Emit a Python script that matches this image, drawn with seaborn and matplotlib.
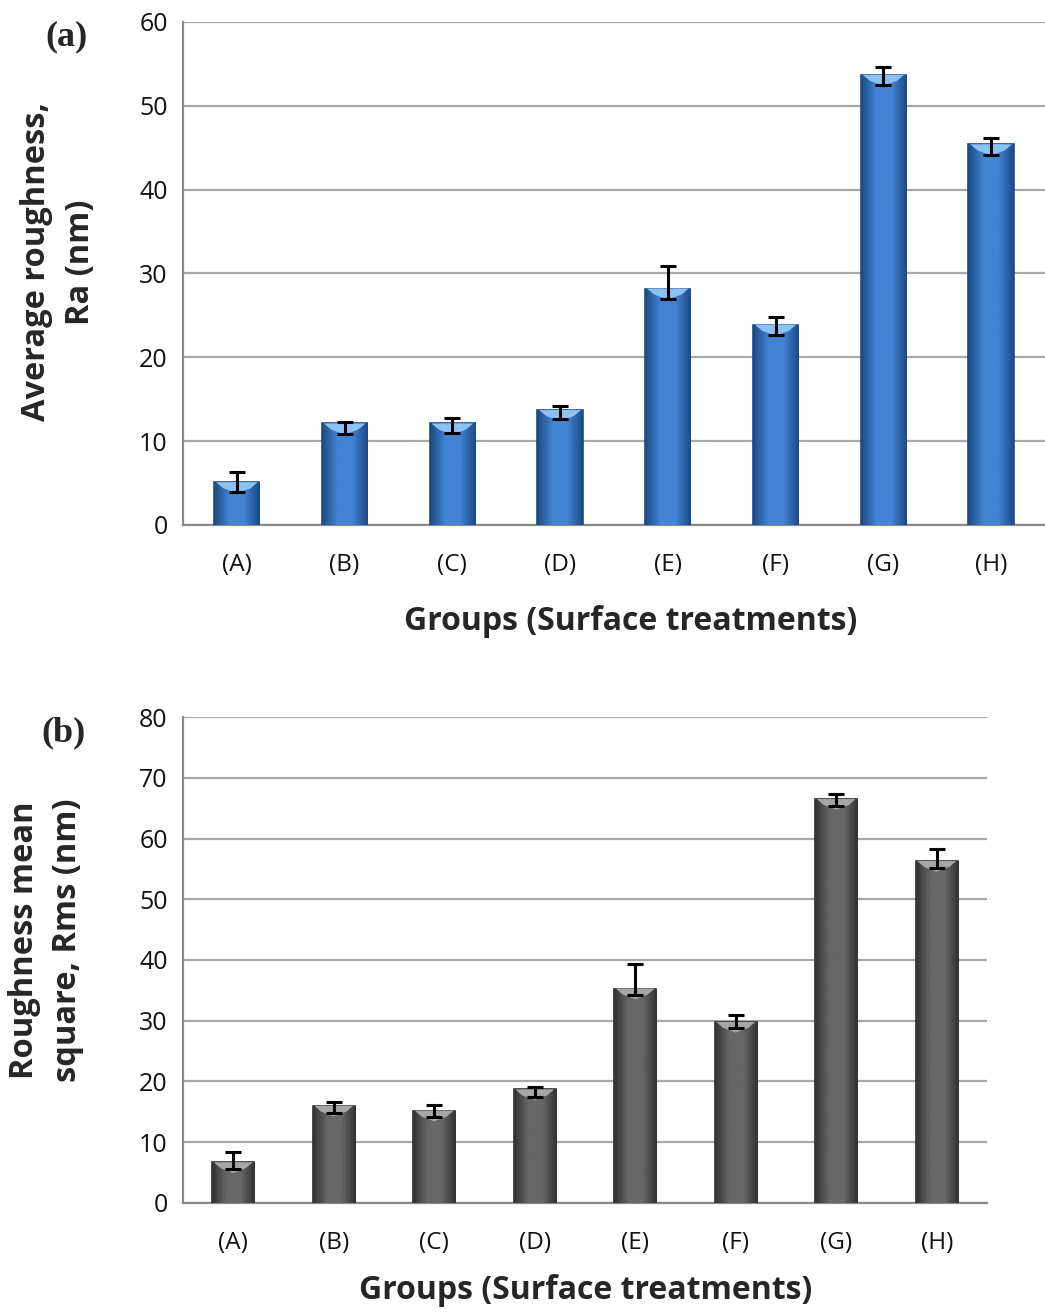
import numpy as np
import pandas as pd
import matplotlib
matplotlib.use('Agg')
import matplotlib.pyplot as plt
from matplotlib.colors import LinearSegmentedColormap
import seaborn as sns

# Valeurs
groups = ['(A)', '(B)', '(C)', '(D)', '(E)', '(F)', '(G)', '(H)']

ra = [5.1, 12.1, 12.1, 13.7, 28.2, 23.9, 53.7, 45.4]
ra_err_low = [1.2, 1.3, 1.1, 1.1, 1.2, 1.2, 1.2, 1.3]
ra_err_high = [1.2, 0.2, 0.7, 0.5, 2.7, 0.9, 0.9, 0.7]

rms = [6.7, 16.0, 15.2, 18.7, 35.3, 29.8, 66.5, 56.3]
rms_err_low = [1.1, 1.2, 1.1, 1.2, 1.1, 1.0, 1.2, 1.2]
rms_err_high = [1.7, 0.7, 1.0, 0.4, 4.0, 1.1, 0.8, 1.9]

df = pd.DataFrame({'group': groups, 'ra': ra, 'rms': rms})

sns.set_style('white')
plt.rcParams['font.family'] = ['Open Sans', 'DejaVu Sans']

fig = plt.figure(figsize=(10.45, 13.13), dpi=100)
ax1 = fig.add_axes([0.1751, 0.6002, 0.8249, 0.3831])
ax2 = fig.add_axes([0.1751, 0.0838, 0.7694, 0.3701])


def draw_panel(ax, col, err_low, err_high, ymax, c_edge, c_mid, c_line, c_top):
    sns.barplot(data=df, x='group', y=col, ax=ax, width=0.42, color=c_mid,
                edgecolor=c_line, linewidth=1.2, zorder=3)
    cmap = LinearSegmentedColormap.from_list('bar', [c_edge, c_mid, c_mid, c_edge])
    grad = np.linspace(0, 1, 64).reshape(1, -1)
    centers = []
    d = ymax * 0.022
    for p in ax.patches:
        x0, w, h = p.get_x(), p.get_width(), p.get_height()
        centers.append(x0 + w / 2)
        im = ax.imshow(grad, extent=[x0, x0 + w, 0, h], aspect='auto', cmap=cmap,
                       zorder=3.5, origin='lower')
        im.set_clip_path(p)
        # reflet clair en haut de la barre
        ax.fill([x0 + w * 0.04, x0 + w * 0.96, x0 + w * 0.8, x0 + w / 2, x0 + w * 0.2],
                [h, h, h - d * 0.55, h - d, h - d * 0.55],
                color=c_top, lw=0, zorder=3.8)
    ax.errorbar(centers, df[col], yerr=[err_low, err_high], fmt='none',
                ecolor='black', elinewidth=2.2, capsize=5.5, capthick=2.2, zorder=5)
    ax.set_xlim(-0.5, len(groups) - 0.5)
    ax.set_ylim(0, ymax)
    ax.set_yticks(np.arange(0, ymax + 1, 10))
    ax.yaxis.grid(True, color='#a8a8a8', linewidth=1.6, zorder=0)
    ax.set_axisbelow(True)
    ax.set_xlabel('')
    ax.set_ylabel('')
    for s in ['top', 'right']:
        ax.spines[s].set_visible(False)
    for s in ['left', 'bottom']:
        ax.spines[s].set_color('#8a8a8a')
        ax.spines[s].set_linewidth(1.6)
    ax.set_xticks(np.arange(-0.5, len(groups), 1.0), minor=True)
    ax.tick_params(axis='x', which='major', length=0, pad=20, labelsize=17.5, labelcolor='#111111')
    ax.tick_params(axis='x', which='minor', length=7, width=1.4, color='#8a8a8a', direction='out')
    ax.tick_params(axis='y', length=7, width=1.4, color='#8a8a8a', direction='out',
                   pad=4, labelsize=18, labelcolor='#111111')


draw_panel(ax1, 'ra', ra_err_low, ra_err_high, 60, '#1d4a86', '#4283d2', '#1f4a80', '#8cc2f2')
draw_panel(ax2, 'rms', rms_err_low, rms_err_high, 80, '#333333', '#676767', '#2e2e2e', '#a6a6a6')

# Titres des axes
fig.text(0.056, 0.8005, 'Average roughness,\nRa (nm)', rotation=90, ha='center', va='center',
         multialignment='center', fontsize=23.5, fontweight='bold', linespacing=1.45)
fig.text(0.044, 0.284, 'Roughness mean\nsquare, Rms (nm)', rotation=90, ha='center', va='center',
         multialignment='center', fontsize=23.5, fontweight='bold', linespacing=1.4)
fig.text(0.603, 0.527, 'Groups (Surface treatments)', ha='center', va='center',
         fontsize=23, fontweight='bold')
fig.text(0.56, 0.017, 'Groups (Surface treatments)', ha='center', va='center',
         fontsize=23, fontweight='bold')

# Lettres des panneaux
fig.text(0.064, 0.972, '(a)', ha='center', va='center', fontsize=26, fontweight='bold',
         family='Liberation Serif')
fig.text(0.061, 0.442, '(b)', ha='center', va='center', fontsize=26, fontweight='bold',
         family='Liberation Serif')

fig.savefig('out.png', dpi=100, facecolor='white')
